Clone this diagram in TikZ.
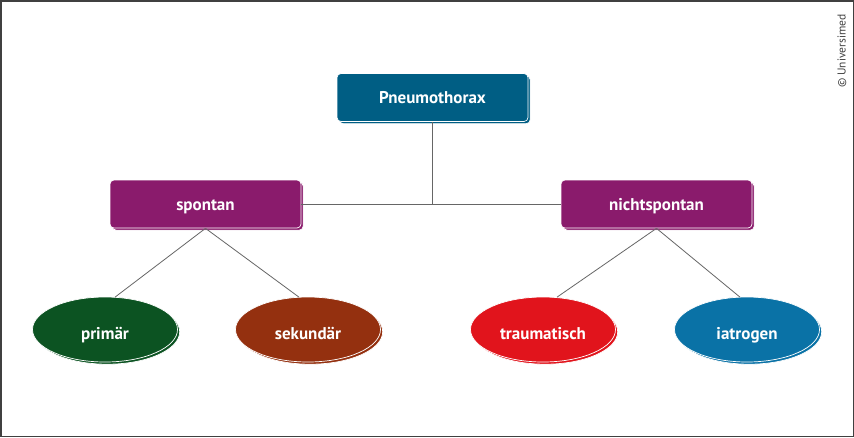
\documentclass[tikz,border=0pt]{standalone}
\usepackage{fontspec}
\setmainfont{PT Sans}
\usetikzlibrary{shapes.geometric,calc}
\definecolor{cpneu}{HTML}{005E84}
\definecolor{cpurp}{HTML}{8A1B6C}
\definecolor{cgreen}{HTML}{0C5322}
\definecolor{cbrown}{HTML}{94300F}
\definecolor{cred}{HTML}{E1141C}
\definecolor{cblue}{HTML}{0A72A6}
\definecolor{cline}{HTML}{666666}
\tikzset{
  x=1pt,y=-1pt,
  lbl/.style={font=\bfseries\fontsize{17}{19}\selectfont, text=white, text height=12pt, text depth=0pt},
  boxnode/.style={lbl, rectangle, rounded corners=4pt, minimum width=191pt, minimum height=48pt, inner sep=0pt, draw=white, line width=0.7pt},
  ellnode/.style={lbl, ellipse, minimum width=145pt, minimum height=65pt, inner sep=0pt, draw=white, line width=0.7pt},
  conn/.style={draw=cline, line width=0.8pt},
  ellabel/.style={lbl, inner sep=0pt},
}
\begin{document}
\begin{tikzpicture}
\draw[draw=black!75, line width=1.5pt, fill=white] (0.75,0.75) rectangle (853.25,436.25);
\useasboundingbox (0,0) rectangle (854,437);
% shadows
\foreach \x/\y/\c in {432.5/97.5/cpneu, 205.5/204/cpurp, 656.5/204/cpurp}
  \node[boxnode, fill=\c] at (\x+2.2,\y+2.2) {};
\foreach \x/\y/\c in {105/329.5/cgreen, 308/329.5/cbrown, 543/329.5/cred, 747/329.5/cblue}
  \node[ellnode, fill=\c] at (\x+2.2,\y+2.2) {};
% main nodes
\node[boxnode, fill=cpneu] (pn) at (432.5,97.5) {Pneumothorax};
\node[boxnode, fill=cpurp] (sp) at (205.5,204) {spontan};
\node[boxnode, fill=cpurp] (ns) at (656.5,204) {nichtspontan};
\node[ellnode, fill=cgreen] (pr) at (105,329.5) {};
\node[ellnode, fill=cbrown] (se) at (308,329.5) {};
\node[ellnode, fill=cred] (tr) at (543,329.5) {};
\node[ellnode, fill=cblue] (ia) at (747,329.5) {};
\node[ellabel] (prl) at ($(pr.center)+(0,4)$) {primär};
\node[ellabel] (sel) at ($(se.center)+(0,4)$) {sekundär};
\node[ellabel] (trl) at ($(tr.center)+(0,4)$) {traumatisch};
\node[ellabel] (ial) at ($(ia.center)+(0,4)$) {iatrogen};
% connectors
\coordinate (j) at (pn.south |- sp.east);
\draw[conn] (pn.south) -- (j);
\draw[conn] (sp.east) -- (ns.west);
\draw[conn] (sp.south) -- ($(pr.north)+(10,0.5)$);
\draw[conn] (sp.south) -- ($(se.north)+(-9,0.5)$);
\draw[conn] (ns.south) -- ($(tr.north)+(14,0.5)$);
\draw[conn] (ns.south) -- ($(ia.north)+(-7,0.5)$);
% copyright
\node[rotate=90, font=\fontsize{11.5}{13}\selectfont, text=black!75] (cr) at (842,51) {© Universimed};
\end{tikzpicture}
\end{document}
